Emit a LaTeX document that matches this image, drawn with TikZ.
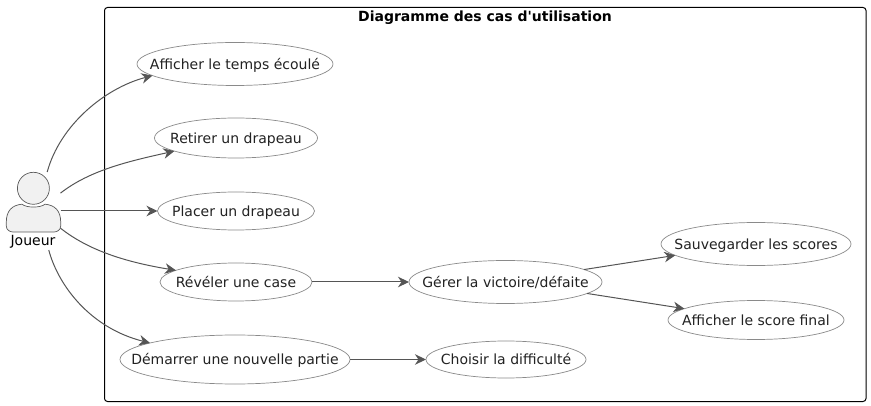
\documentclass[tikz,border=0pt]{standalone}
\usepackage{fontspec}
\setmainfont{DejaVu Sans}
\usetikzlibrary{shapes.geometric,arrows.meta}
\definecolor{linec}{HTML}{555555}
\definecolor{ellc}{HTML}{8A8A8A}
\definecolor{txtc}{HTML}{222222}
\definecolor{actf}{HTML}{F1F1F1}
\definecolor{actl}{HTML}{5A5A5A}
\newcommand{\uctext}[1]{\makebox[0pt][c]{#1}}
\tikzset{
  usecase/.style={ellipse,draw=ellc,line width=0.7pt,fill=white,inner sep=0pt,outer sep=0pt,text=txtc,text height=11pt,text depth=0pt,font=\fontsize{14}{16}\selectfont},
  conn/.style={draw=linec,line width=1pt,-{Stealth[length=11pt,width=10.5pt,inset=3.5pt]}},
  actorpart/.style={draw=actl,fill=actf,line width=0.7pt},
}
\begin{document}
\begin{tikzpicture}[x=1pt,y=-1pt]
\useasboundingbox (0,0) rectangle (871,406);
\draw[black,line width=1pt,rounded corners=3pt] (104.5,7.5) rectangle (866,401.5);
\node[font=\bfseries\fontsize{14}{16}\selectfont,text=black] (title) at (485,18) {Diagramme des cas d\textquotesingle utilisation};

\node[inner sep=0pt,outer sep=0pt,minimum width=55pt,minimum height=78pt] (actor) at (33,211) {};
\draw[actorpart] (33.4,188.3) circle (16pt);
\draw[actorpart] (6.3,226) -- (6.3,222) .. controls (6.3,211) and (12,205) .. (22,204.2)
  .. controls (26,208) and (41,208) .. (45,204.2)
  .. controls (55,205) and (60.7,211) .. (60.7,222) -- (60.7,226) .. controls (60.7,230) and (57,232) .. (54,232) -- (13,232) .. controls (10,232) and (6.3,230) .. (6.3,226) -- cycle;
\node[text=black,inner sep=0pt,font=\fontsize{14}{16}\selectfont] (joueur) at (33,241.5) {Joueur};

\node[usecase,minimum width=196pt,minimum height=43pt] (temps) at (235,64) {\uctext{Afficher le temps écoulé}};
\node[usecase,minimum width=163pt,minimum height=40pt] (retirer) at (236,138) {\uctext{Retirer un drapeau}};
\node[usecase,minimum width=157pt,minimum height=38pt] (placer) at (236,211) {\uctext{Placer un drapeau}};
\node[usecase,minimum width=152pt,minimum height=38pt] (reveler) at (236,282) {\uctext{Révéler une case}};
\node[usecase,minimum width=230pt,minimum height=49pt] (demarrer) at (235,359.5) {\uctext{Démarrer une nouvelle partie}};
\node[usecase,minimum width=193pt,minimum height=43pt] (gerer) at (505.5,282) {\uctext{Gérer la victoire/défaite}};
\node[usecase,minimum width=160pt,minimum height=37pt] (choisir) at (506,359.5) {\uctext{Choisir la difficulté}};
\node[usecase,minimum width=190pt,minimum height=43pt] (sauver) at (756,244) {\uctext{Sauvegarder les scores}};
\node[usecase,minimum width=176pt,minimum height=39pt] (final) at (756,320) {\uctext{Afficher le score final}};

\draw[conn] (actor.70.7) .. controls (60,125) and (105,88) .. (temps.188);
\draw[conn] (actor.33.7) .. controls (90,170) and (130,161) .. (retirer.192);
\draw[conn] (actor.east) -- (placer.west);
\draw[conn] (actor.-32) .. controls (88,250) and (125,262) .. (reveler.169.6);
\draw[conn] (actor.-68) .. controls (58,285) and (90,328) .. (demarrer.169);
\draw[conn] (reveler.east) -- (gerer.west);
\draw[conn] (demarrer.east) -- (choisir.west);
\draw[conn] (gerer.9) -- (sauver.188);
\draw[conn] (gerer.-8.6) -- (final.171);
\end{tikzpicture}
\end{document}
